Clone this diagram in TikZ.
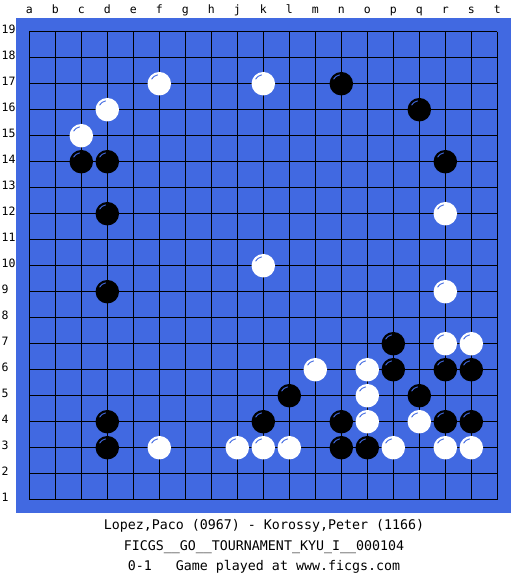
\documentclass[tikz,border=0pt]{standalone}
\usepackage{fontspec}
\setmonofont{DejaVu Sans Mono}
\usepackage{xcolor}
\usepackage{tikz}
\definecolor{boardblue}{RGB}{65,105,225}

\begin{document}
\begin{tikzpicture}[x=1pt, y=-1pt,
  lbl/.style={font=\ttfamily\fontsize{11.5}{13}\selectfont, inner sep=0pt, anchor=base},
  info/.style={font=\ttfamily\fontsize{13.3}{16}\selectfont, inner sep=0pt, anchor=base},
  bstone/.style={circle, fill=black, inner sep=0pt, minimum size=23.5pt},
  wstone/.style={circle, fill=white, inner sep=0pt, minimum size=23.5pt},
  shine/.style={boardblue, line width=0.9pt}]
\useasboundingbox (0,0) rectangle (525,575);
\fill[boardblue] (16,18) rectangle (511,513);
\foreach \i in {0,...,18} {
  \draw[line width=1.2pt] ({29.3+26*\i},31.7) -- ({29.3+26*\i},499.7);
  \draw[line width=1.2pt] (29.3,{31.7+26*\i}) -- (497.3,{31.7+26*\i});
}
\foreach \l [count=\i from 0] in {a,b,c,d,e,f,g,h,j,k,l,m,n,o,p,q,r,s,t}
  \node[lbl] (col-\l) at ({29.3+26*\i},14) {\l};
\foreach \r in {1,...,19}
  \node[lbl, anchor=base west] (row-\r) at (1.5,{31.7+26*(19-\r)+1.8}) {\r};
\foreach \p/\c/\r in {n17/13/17, q16/16/16, c14/3/14, d14/4/14, r14/17/14, d12/4/12, d9/4/9,
    p7/15/7, p6/15/6, r6/17/6, s6/18/6, l5/11/5, q5/16/5, d4/4/4, k4/10/4, n4/13/4,
    r4/17/4, s4/18/4, d3/4/3, n3/13/3, o3/14/3} {
  \node[bstone] (\p) at ({3.3+26*\c},{31.7+26*(19-\r)}) {};
  \draw[shine] (\p.center) ++(210:9) arc[start angle=210, end angle=260, radius=9];
}
\foreach \p/\c/\r in {f17/6/17, k17/10/17, d16/4/16, c15/3/15, r12/17/12, k10/10/10, r9/17/9,
    r7/17/7, s7/18/7, m6/12/6, o6/14/6, o5/14/5, o4/14/4, q4/16/4, f3/6/3, j3/9/3,
    k3/10/3, l3/11/3, p3/15/3, r3/17/3, s3/18/3} {
  \node[wstone] (\p) at ({3.3+26*\c},{31.7+26*(19-\r)}) {};
  \draw[shine] (\p.center) ++(210:9) arc[start angle=210, end angle=260, radius=9];
}
\node[info] (players) at (264,529) {Lopez,Paco (0967) - Korossy,Peter (1166)};
\node[info] (event) at (264,550) {FICGS\_\_GO\_\_TOURNAMENT\_KYU\_I\_\_000104};
\node[info] (result) at (264,570) {0-1\ \ \ Game played at www.ficgs.com};
\end{tikzpicture}
\end{document}
